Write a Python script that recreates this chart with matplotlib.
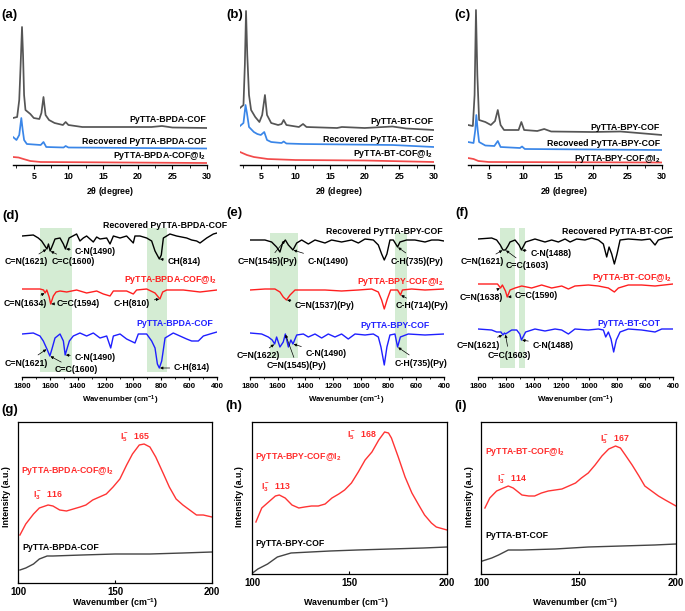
import numpy as np
import matplotlib
matplotlib.use('Agg')
import matplotlib.pyplot as plt
from matplotlib.ticker import MultipleLocator

# ---------------- data ----------------
# XRD, 2theta (deg) vs intensity (a.u.)
a_grey_x = [2.0, 2.6, 2.9, 3.1, 3.3, 3.45, 3.6, 3.8, 4.5, 5.0, 5.8, 6.1, 6.4, 6.7, 7.2, 8.0, 9.2, 9.6, 10.0, 12.0, 17.0, 22.0, 23.5, 25.0, 30.0]
a_grey_y = [47, 48, 65, 100, 138, 110, 70, 55, 51, 47, 46, 52, 68, 50, 45, 42, 40, 43, 40, 38, 38, 38, 39, 37.5, 37]
a_blue_x = [2.0, 2.5, 2.9, 3.2, 3.4, 3.6, 4.0, 6.0, 6.4, 6.8, 9.3, 9.6, 10.0, 30.0]
a_blue_y = [28, 25, 30, 47, 35, 25, 21, 20, 23, 18, 17.5, 19, 17.5, 16.5]
a_red_x = [2.0, 2.8, 3.5, 4.5, 6.0, 30.0]
a_red_y = [8, 7.5, 6, 4, 3, 2]

b_grey_x = [2.0, 2.5, 2.7, 2.87, 3.05, 3.3, 3.6, 4.2, 4.8, 5.2, 5.6, 5.9, 6.5, 7.5, 8.0, 8.3, 8.7, 10.5, 11.1, 11.6, 16.0, 16.7, 20.0, 24.0, 26.0, 30.0]
b_grey_y = [57, 60, 100, 154, 110, 70, 55, 48, 43, 50, 70, 50, 42, 40, 41, 45, 40, 38, 41, 38, 37, 38, 37, 38.5, 36.5, 35]
b_blue_x = [2.0, 2.5, 2.8, 3.0, 3.3, 4.0, 4.5, 5.0, 5.5, 5.9, 6.5, 8.0, 8.3, 8.7, 11.0, 24.0, 30.0]
b_blue_y = [39, 42, 60, 52, 38, 33, 31, 30, 33, 25, 23, 22, 23.5, 21.5, 21, 20, 18]
b_red_x = [2.0, 2.5, 3.0, 4.0, 6.0, 10.0, 20.0, 30.0]
b_red_y = [13, 11.5, 10, 8, 6, 5, 4.5, 3]

c_grey_x = [2.0, 2.7, 2.95, 3.15, 3.35, 3.6, 4.5, 5.3, 5.9, 6.3, 6.7, 7.2, 9.3, 9.7, 10.1, 12.0, 13.0, 14.0, 20.0, 24.0, 30.0]
c_grey_y = [40, 39, 70, 155, 90, 45, 43, 40, 44, 55, 40, 35, 35, 43, 35, 34, 36, 33.5, 33, 33.5, 30]
c_blue_x = [2.0, 2.8, 3.05, 3.2, 3.4, 3.6, 4.5, 5.8, 6.3, 6.7, 9.5, 9.8, 10.2, 30.0]
c_blue_y = [23, 22, 35, 50, 35, 23, 19.5, 19, 24, 18, 17, 18.5, 16, 15]
c_red_x = [2.0, 2.8, 3.5, 5.0, 30.0]
c_red_y = [7, 6, 4, 3, 2.5]

# FTIR, wavenumber (cm-1) vs transmittance (a.u., offset)
d_black_x = [1800, 1719, 1683, 1659, 1621, 1610, 1598, 1580, 1563, 1527, 1503, 1488, 1462, 1408, 1384, 1360, 1336, 1312, 1288, 1264, 1240, 1192, 1168, 1144, 1096, 1049, 1001, 989, 953, 905, 869, 845, 814, 800, 785, 738, 690, 618, 582, 546, 522, 474, 426, 400]
d_black_y = [141, 142, 139, 136, 128, 133, 126, 132, 138, 139, 133, 128, 139, 143, 136, 139, 141, 138, 135, 140, 138, 139, 133, 141, 139, 141, 134, 141, 141, 139, 136, 126, 118, 122, 139, 143, 141, 139, 137, 136, 134, 139, 143, 144]
d_red_x = [1800, 1671, 1645, 1634, 1622, 1605, 1594, 1575, 1555, 1527, 1479, 1408, 1336, 1264, 1216, 1168, 1144, 1049, 1001, 977, 905, 845, 810, 790, 761, 642, 522, 400]
d_red_y = [88, 88, 87, 84, 87, 80, 73, 81, 85, 86, 85, 87, 84, 86, 83, 81, 86, 86, 83, 87, 88, 84, 78, 85, 87, 87, 85, 87]
d_blue_x = [1800, 1719, 1671, 1647, 1621, 1600, 1585, 1563, 1527, 1503, 1490, 1460, 1432, 1384, 1336, 1288, 1240, 1192, 1163, 1144, 1096, 1049, 989, 965, 905, 869, 845, 828, 814, 797, 773, 714, 666, 618, 582, 534, 498, 426, 400]
d_blue_y = [43, 44, 41, 36, 28, 21, 28, 39, 43, 36, 22, 36, 41, 44, 41, 44, 39, 41, 29, 41, 43, 38, 34, 43, 43, 36, 29, 13, 9, 16, 39, 44, 41, 38, 36, 36, 41, 44, 45]

e_black_x = [1800, 1692, 1644, 1608, 1584, 1567, 1545, 1523, 1490, 1463, 1427, 1379, 1331, 1259, 1211, 1139, 1067, 1018, 970, 910, 874, 850, 831, 812, 790, 766, 735, 718, 670, 610, 537, 489, 441, 400]
e_black_y = [137, 137, 135, 130, 125, 133, 137, 132, 127, 134, 137, 133, 137, 134, 137, 135, 137, 134, 138, 137, 132, 123, 117, 123, 137, 137, 130, 135, 137, 137, 135, 137, 137, 136]
e_red_x = [1800, 1692, 1620, 1584, 1560, 1537, 1511, 1475, 1379, 1259, 1139, 1018, 922, 874, 850, 831, 809, 785, 735, 714, 700, 634, 537, 400]
e_red_y = [87, 88, 88, 85, 80, 77, 82, 87, 87, 87, 86, 87, 88, 85, 77, 68, 78, 87, 87, 82, 87, 88, 87, 88]
e_blue_x = [1800, 1716, 1668, 1640, 1622, 1608, 1584, 1560, 1545, 1523, 1505, 1490, 1463, 1415, 1379, 1331, 1283, 1235, 1187, 1139, 1091, 1042, 970, 910, 874, 855, 831, 812, 790, 754, 735, 715, 658, 537, 400]
e_blue_y = [44, 43, 40, 37, 33, 40, 30, 35, 43, 30, 37, 33, 42, 43, 40, 43, 39, 43, 40, 43, 38, 43, 42, 43, 40, 30, 12, 30, 42, 43, 30, 40, 43, 42, 43]

f_black_x = [1800, 1702, 1666, 1640, 1621, 1603, 1585, 1570, 1534, 1505, 1488, 1458, 1391, 1319, 1271, 1223, 1175, 1139, 1092, 1032, 984, 936, 900, 876, 859, 840, 821, 802, 780, 721, 625, 565, 529, 505, 457, 400]
f_black_y = [138, 139, 137, 132, 127, 127, 131, 135, 137, 132, 127, 135, 138, 135, 137, 135, 138, 135, 138, 137, 139, 137, 133, 120, 130, 123, 113, 123, 137, 138, 137, 138, 132, 137, 139, 140]
f_red_x = [1800, 1660, 1638, 1625, 1603, 1590, 1570, 1534, 1486, 1415, 1343, 1271, 1199, 1151, 1104, 1008, 936, 864, 821, 792, 721, 625, 529, 400]
f_red_y = [93, 93, 89, 92, 86, 80, 87, 89, 91, 89, 92, 89, 91, 88, 91, 92, 91, 89, 85, 89, 92, 92, 91, 93]
f_blue_x = [1800, 1702, 1666, 1635, 1621, 1610, 1603, 1558, 1522, 1500, 1488, 1458, 1391, 1319, 1247, 1199, 1151, 1104, 1008, 936, 900, 883, 864, 845, 826, 807, 780, 721, 625, 529, 481, 400]
f_blue_y = [48, 47, 45, 45, 42, 44, 43, 47, 47, 43, 37, 45, 48, 46, 48, 47, 43, 48, 47, 48, 47, 40, 45, 38, 25, 37, 45, 48, 47, 45, 48, 48]

# Raman, wavenumber (cm-1) vs intensity (a.u.)
g_red_x = [101, 104, 108, 111, 115.5, 118, 121.5, 125, 128.5, 132, 135, 138.5, 142, 145.5, 149, 152.5, 156, 159, 162.5, 165, 168, 171, 175, 178, 181.5, 185, 188.5, 192, 195.5, 200]
g_red_y = [48, 59, 69, 75, 78, 77, 73, 72, 74, 76, 78, 83, 86, 89, 96, 104, 118, 129, 138, 139, 136, 126, 109, 96, 84, 78, 73, 68, 68, 66]
g_black_x = [101, 104, 108, 111, 115, 118, 133, 150, 168, 185, 200]
g_black_y = [13, 15, 19, 24, 27, 27, 28, 29, 29, 30, 31]

h_red_x = [102, 105, 108.5, 112, 114, 117, 120.5, 124, 127, 130.5, 134, 137.5, 141, 144.5, 147.5, 151, 154.5, 158, 161.5, 165, 168, 170, 171.5, 175, 178.5, 182, 185.5, 188.5, 192, 194.5, 200]
h_red_y = [52, 66, 72, 78, 79, 76, 69, 66, 67, 68, 68, 70, 76, 80, 84, 91, 102, 114, 122, 134, 142, 141, 136, 117, 97, 81, 69, 59, 51, 47, 44]
h_black_x = [100.3, 103, 108, 113, 120, 130, 140, 154, 171, 188, 200]
h_black_y = [1, 5, 10, 17, 21, 22, 23, 24, 25, 26, 27]

i_red_x = [102, 104.5, 108, 111.5, 114, 116.5, 121, 124.5, 127.5, 131, 134.5, 138, 141.5, 145, 148.5, 151.5, 155, 158.5, 162, 165.5, 169, 171.5, 174, 177.5, 181, 184, 187.5, 191, 194.5, 200]
i_red_y = [66, 76, 83, 86, 88, 86, 79, 78, 78, 81, 83, 84, 85, 88, 91, 96, 101, 109, 118, 125, 128, 126, 119, 109, 98, 88, 83, 78, 74, 68]
i_black_x = [100.7, 105.5, 109, 114, 121, 138, 155, 172, 189, 200]
i_black_y = [13, 16, 19, 24, 24, 25, 27, 28, 29, 30]

# ---------------- style ----------------
plt.rcParams['font.family'] = ['Liberation Sans', 'DejaVu Sans']
plt.rcParams['font.weight'] = 'bold'
plt.rcParams['mathtext.fontset'] = 'custom'
plt.rcParams['mathtext.bf'] = 'Liberation Sans:bold'
plt.rcParams['mathtext.rm'] = 'Liberation Sans:bold'
plt.rcParams['mathtext.default'] = 'bf'

W, H = 685, 611
FS = 6.3
GREY, BLUE, RED = '#555555', '#3a86e8', '#f24a4a'
IR_RED, IR_BLUE = '#ff1f1f', '#1f1fff'
GREEN = '#d4ecd3'

fig = plt.figure(figsize=(6.85, 6.11), dpi=100)


def add_box(x0, y0, x1, y1):
    return fig.add_axes([x0 / W, 1 - y1 / H, (x1 - x0) / W, (y1 - y0) / H])


def ff(x, y):
    return (x / W, 1 - y / H)


def ftext(x, y, s, **kw):
    kw.setdefault('fontsize', FS)
    kw.setdefault('ha', 'center')
    kw.setdefault('va', 'center')
    fig.text(*ff(x, y), s, **kw)


def only_bottom(ax):
    for s in ['top', 'left', 'right']:
        ax.spines[s].set_visible(False)
    ax.set_yticks([])


# ---------------- XRD panels ----------------
def xrd(box, curves, names, name_x, name_y, tag, tag_x, xl_x):
    ax = add_box(*box)
    for (x, y), c in zip(curves, [GREY, BLUE, RED]):
        ax.plot(x, y, color=c, lw=1.25)
    ax.set_xlim(2, 30)
    ax.set_ylim(0, 157)
    only_bottom(ax)
    ax.xaxis.set_major_locator(MultipleLocator(5))
    ax.xaxis.set_minor_locator(MultipleLocator(2.5))
    ax.tick_params(axis='x', which='major', length=3, width=0.8, labelsize=6.4, pad=2)
    ax.tick_params(axis='x', which='minor', length=1.8, width=0.6)
    ax.spines['bottom'].set_linewidth(1.0)
    for n, yy in zip(names, name_y):
        ftext(name_x, yy, n, ha='right')
    ftext(tag_x, 15, tag, fontsize=9.5, ha='left')
    ftext(xl_x, 191, r'2$\mathbf{\theta}$ (degree)')
    return ax


xrd((13, 8, 207, 165), [(a_grey_x, a_grey_y), (a_blue_x, a_blue_y), (a_red_x, a_red_y)],
    ['PyTTA-BPDA-COF', 'Recovered PyTTA-BPDA-COF', r'PyTTA-BPDA-COF@I$_2$'],
    206, [120, 141, 156], '(a)', 1, 110)
xrd((240, 8, 434, 165), [(b_grey_x, b_grey_y), (b_blue_x, b_blue_y), (b_red_x, b_red_y)],
    ['PyTTA-BT-COF', 'Recovered PyTTA-BT-COF', r'PyTTA-BT-COF@I$_2$'],
    433, [122, 139, 154], '(b)', 226, 339)
xrd((468, 8, 662, 165), [(c_grey_x, c_grey_y), (c_blue_x, c_blue_y), (c_red_x, c_red_y)],
    ['PyTTA-BPY-COF', 'Recoveed PyTTA-BPY-COF', r'PyTTA-BPY-COF@I$_2$'],
    660, [127, 144, 159], '(c)', 454, 564)


# ---------------- FTIR panels ----------------
def ftir(box, curves, bands, band_y, tag, tag_xy, xl_x):
    ax = add_box(*box)
    for lo, hi in bands:
        ax.axvspan(lo, hi, ymin=band_y[0], ymax=band_y[1], color=GREEN, lw=0, zorder=0)
    for (x, y), c in zip(curves, ['black', IR_RED, IR_BLUE]):
        ax.plot(x, y, color=c, lw=1.0)
    ax.set_xlim(1800, 400)
    ax.set_ylim(0, 157)
    only_bottom(ax)
    ax.xaxis.set_major_locator(MultipleLocator(200))
    ax.xaxis.set_minor_locator(MultipleLocator(100))
    ax.tick_params(axis='x', which='major', length=2.5, width=0.8, labelsize=5.7, pad=2)
    ax.tick_params(axis='x', which='minor', length=1.5, width=0.6)
    ax.spines['bottom'].set_linewidth(1.0)
    ftext(tag_xy[0], tag_xy[1], tag, fontsize=9.5, ha='left')
    ftext(xl_x, 400, r'Wavenumber (cm$^{-1}$)', fontsize=5.7)
    return ax


def note(ax, s, w, x, y, tx, ty, color='black'):
    yv = np.interp(w, x[::-1], y[::-1])
    ax.annotate(s, xy=(w, yv), xytext=ff(tx, ty), textcoords='figure fraction',
                ha='center', va='center', fontsize=FS, color=color,
                arrowprops=dict(arrowstyle='-|>', lw=0.5, color='black',
                                mutation_scale=4, shrinkA=1, shrinkB=0.5),
                annotation_clip=False)


ax = ftir((22, 220, 217, 377), [(d_black_x, d_black_y), (d_red_x, d_red_y), (d_blue_x, d_blue_y)],
          [(1670, 1440), (900, 760)], (0.03, 0.95), '(d)', (2, 216), 120)
ftext(227, 226, 'Recovered PyTTA-BPDA-COF', ha='right')
ftext(217, 280, r'PyTTA-BPDA-COF@I$_2$', ha='right', color=IR_RED)
ftext(213, 323, 'PyTTA-BPDA-COF', ha='right', color=IR_BLUE)
note(ax, 'C=N(1621)', 1621, d_black_x, d_black_y, 26, 262)
note(ax, 'C=C(1600)', 1598, d_black_x, d_black_y, 73, 262)
note(ax, 'C-N(1490)', 1488, d_black_x, d_black_y, 95, 251)
note(ax, 'CH(814)', 814, d_black_x, d_black_y, 184, 262)
note(ax, 'C=N(1634)', 1634, d_red_x, d_red_y, 25, 303)
note(ax, 'C=C(1594)', 1594, d_red_x, d_red_y, 78, 303)
note(ax, 'C-H(810)', 810, d_red_x, d_red_y, 132, 303)
note(ax, 'C-N(1490)', 1490, d_blue_x, d_blue_y, 95, 357)
note(ax, 'C=N(1621)', 1621, d_blue_x, d_blue_y, 26, 363)
note(ax, 'C=C(1600)', 1600, d_blue_x, d_blue_y, 76, 370)
note(ax, 'C-H(814)', 814, d_blue_x, d_blue_y, 192, 368)

ax = ftir((250, 220, 444, 377), [(e_black_x, e_black_y), (e_red_x, e_red_y), (e_blue_x, e_blue_y)],
          [(1656, 1454), (753, 667)], (0.12, 0.92), '(e)', (226, 213), 346)
ftext(443, 231, 'Recovered PyTTA-BPY-COF', ha='right')
ftext(443, 282, r'PyTTA-BPY-COF@I$_2$', ha='right', color=IR_RED)
ftext(430, 326, 'PyTTA-BPY-COF', ha='right', color=IR_BLUE)
note(ax, 'C=N(1545)(Py)', 1545, e_black_x, e_black_y, 268, 261)
note(ax, 'C-N(1490)', 1490, e_black_x, e_black_y, 328, 261)
note(ax, 'C-H(735)(Py)', 735, e_black_x, e_black_y, 417, 261)
note(ax, 'C=N(1537)(Py)', 1537, e_red_x, e_red_y, 325, 306)
note(ax, 'C-H(714)(Py)', 714, e_red_x, e_red_y, 422, 306)
note(ax, 'C=N(1622)', 1622, e_blue_x, e_blue_y, 258, 356)
note(ax, 'C-N(1490)', 1490, e_blue_x, e_blue_y, 326, 354)
note(ax, 'C=N(1545)(Py)', 1545, e_blue_x, e_blue_y, 297, 366)
note(ax, 'C-H(735)(Py)', 735, e_blue_x, e_blue_y, 421, 363)

ax = ftir((478, 220, 673, 377), [(f_black_x, f_black_y), (f_red_x, f_red_y), (f_blue_x, f_blue_y)],
          [(1642, 1534), (1506, 1462)], (0.06, 0.95), '(f)', (455, 213), 575)
ftext(672, 231, 'Recovered PyTTA-BT-COF', ha='right')
ftext(672, 278, r'PyTTA-BT-COF@I$_2$', ha='right', color=IR_RED)
ftext(660, 324, 'PyTTA-BT-COT', ha='right', color=IR_BLUE)
note(ax, 'C=N(1621)', 1621, f_black_x, f_black_y, 482, 262)
note(ax, 'C=C(1603)', 1603, f_black_x, f_black_y, 527, 266)
note(ax, 'C-N(1488)', 1488, f_black_x, f_black_y, 551, 254)
note(ax, 'C=N(1638)', 1638, f_red_x, f_red_y, 481, 297)
note(ax, 'C=C(1590)', 1590, f_red_x, f_red_y, 536, 295)
note(ax, 'C=N(1621)', 1621, f_blue_x, f_blue_y, 478, 345)
note(ax, 'C=C(1603)', 1603, f_blue_x, f_blue_y, 509, 355)
note(ax, 'C-N(1488)', 1488, f_blue_x, f_blue_y, 553, 345)


# ---------------- Raman panels ----------------
def raman(box, red, black, ylim, tag, tag_xy, xl_x, yl_x, name_red, name_black, i3, i5):
    ax = add_box(*box)
    ax.plot(*red, color='#ff3434', lw=1.0)
    ax.plot(*black, color='#444444', lw=1.0)
    ax.set_xlim(100, 200)
    ax.set_ylim(0, ylim)
    ax.set_yticks([])
    ax.set_xticks([100, 150, 200])
    ax.tick_params(axis='x', direction='in', length=2.5, width=0.8, labelsize=7, pad=3)
    for s in ax.spines.values():
        s.set_linewidth(0.9)
    ftext(tag_xy[0], tag_xy[1], tag, fontsize=9.5, ha='left')
    ftext(xl_x, 603, r'Wavenumber (cm$^{-1}$)', fontsize=6.4)
    ftext(yl_x, 497, 'Intensity (a.u.)', fontsize=6.4, rotation=90)
    ftext(*name_red, color='#ff2b2b', ha='left')
    ftext(*name_black, ha='left')
    ftext(*i3, color='#ff2b2b', ha='left')
    ftext(*i5, color='#ff2b2b', ha='left')
    return ax


raman((18, 422, 212, 583), (g_red_x, g_red_y), (g_black_x, g_black_y), 161, '(g)', (1, 410), 115, 7,
      (21, 471, r'PyTTA-BPDA-COF@I$_2$'), (22, 547, 'PyTTA-BPDA-COF'),
      (33, 495, r'$\mathbf{I_3^-}$  116'), (120, 437, r'$\mathbf{I_5^-}$  165'))
raman((252, 422, 447, 574), (h_red_x, h_red_y), (h_black_x, h_black_y), 152, '(h)', (225, 406), 346, 240,
      (255, 457, r'PyTTA-BPY-COF@I$_2$'), (255, 544, 'PyTTA-BPY-COF'),
      (261, 487, r'$\mathbf{I_3^-}$  113'), (347, 435, r'$\mathbf{I_5^-}$  168'))
raman((481, 422, 676, 574), (i_red_x, i_red_y), (i_black_x, i_black_y), 152, '(i)', (454, 406), 575, 469,
      (485, 452, r'PyTTA-BT-COF@I$_2$'), (485, 536, 'PyTTA-BT-COF'),
      (497, 479, r'$\mathbf{I_3^-}$  114'), (600, 439, r'$\mathbf{I_5^-}$  167'))

fig.savefig('out.png', dpi=100)
